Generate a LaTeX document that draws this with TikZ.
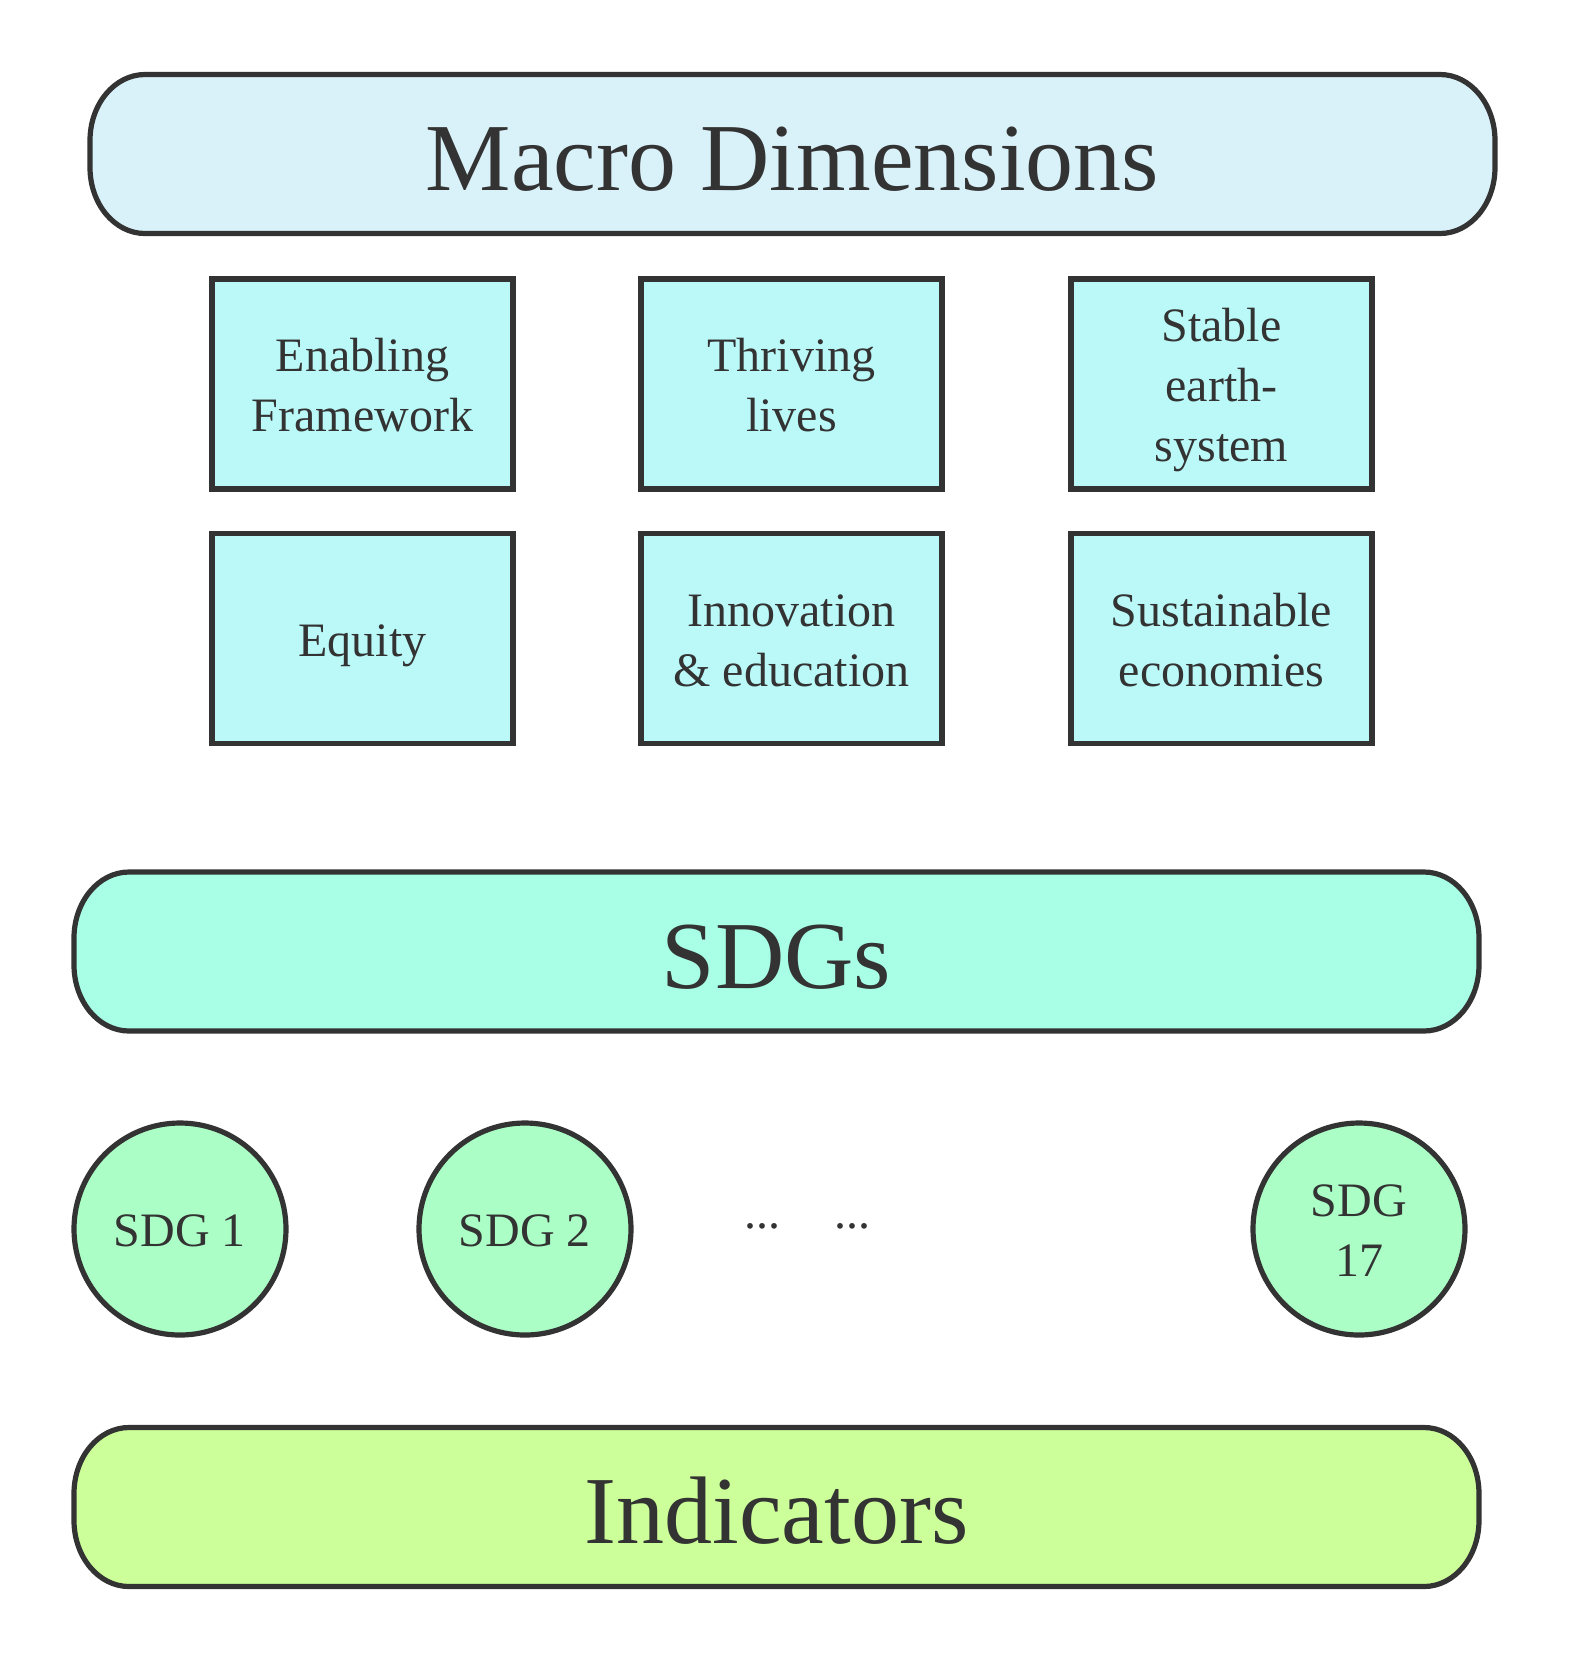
\documentclass[tikz,border=0pt]{standalone}
\usepackage{fontspec}
\setmainfont{Liberation Serif}
\usetikzlibrary{backgrounds}
\definecolor{ink}{HTML}{333333}
\definecolor{macrofill}{HTML}{D9F2F9}
\definecolor{dimfill}{HTML}{BBF9F9}
\definecolor{sdgfill}{HTML}{A8FFE5}
\definecolor{goalfill}{HTML}{ABFFC6}
\definecolor{indfill}{HTML}{CCFF99}
% every line of the small labels sits on the same strut (23.5pt up, 6pt down)
\newcommand\lnstrut{\rule[-6pt]{0pt}{29.5pt}}
% pill outline with elliptic ends, drawn behind a named band node
\newcommand\pillbehind[2]{%
  \begin{scope}[on background layer]
    \filldraw[draw=ink, fill=#2, line width=2.6pt]
      ([xshift=27.5pt]#1.north west) -- ([xshift=-27.5pt]#1.north east)
      arc[start angle=90, end angle=0, x radius=27.5pt, y radius=33pt]
      -- ([yshift=33pt]#1.south east)
      arc[start angle=0, end angle=-90, x radius=27.5pt, y radius=33pt]
      -- ([xshift=27.5pt]#1.south west)
      arc[start angle=270, end angle=180, x radius=27.5pt, y radius=33pt]
      -- ([yshift=-33pt]#1.north west)
      arc[start angle=180, end angle=90, x radius=27.5pt, y radius=33pt]
      -- cycle;
  \end{scope}}
\begin{document}
\begin{tikzpicture}[x=0.5pt,y=-0.5pt,
  band/.style={minimum width=702.5pt, minimum height=79.5pt, inner sep=0pt,
    outer sep=0pt, text height=36.5pt, text depth=0pt,
    text=ink, font=\fontsize{48}{58}\selectfont},
  dimbox/.style={draw=ink, line width=2.6pt, fill=dimfill,
    minimum width=150.5pt, minimum height=105pt, inner sep=0pt,
    text=ink, align=center, font=\fontsize{24}{30}\selectfont},
  goal/.style={circle, draw=ink, line width=2.6pt, fill=goalfill,
    minimum size=106pt, inner sep=0pt,
    text=ink, align=center, font=\fontsize{24}{30}\selectfont},
  gap/.style={anchor=base, text=ink, inner sep=0pt, font=\fontsize{24}{30}\selectfont}]
\useasboundingbox (0,0) rectangle (1569,1662);

% top band
\node[band] (macro) at (792.5,154) {Macro Dimensions};
\pillbehind{macro}{macrofill}

% six macro dimensions
\node[dimbox] (enabling) at (362.5,384) {\lnstrut Enabling\\\lnstrut Framework};
\node[dimbox] (thriving) at (791.5,384) {\lnstrut Thriving\\\lnstrut lives};
\node[dimbox] (stable) at (1221.5,384) {\lnstrut Stable\\\lnstrut earth-\\\lnstrut system};
\node[dimbox] (equity) at (362.5,638.5) {\lnstrut Equity};
\node[dimbox] (innovation) at (791.5,638.5) {\lnstrut Innovation\\\lnstrut\&~education};
\node[dimbox] (economies) at (1221.5,638.5) {\lnstrut Sustainable\\\lnstrut economies};

% SDG band
\node[band] (sdgs) at (776.5,951.5) {SDGs};
\pillbehind{sdgs}{sdgfill}

% individual goals
\node[goal] (sdg1) at (180,1229) {\lnstrut SDG 1};
\node[goal] (sdg2) at (525,1229) {\lnstrut SDG 2};
\node[gap] (gapa) at (762,1228) {...};
\node[gap] (gapb) at (852,1228) {...};
\node[goal] (sdg17) at (1359,1229) {\lnstrut SDG\\\lnstrut 17};

% indicator band
\node[band] (indicators) at (776.5,1507) {Indicators};
\pillbehind{indicators}{indfill}
\end{tikzpicture}
\end{document}
